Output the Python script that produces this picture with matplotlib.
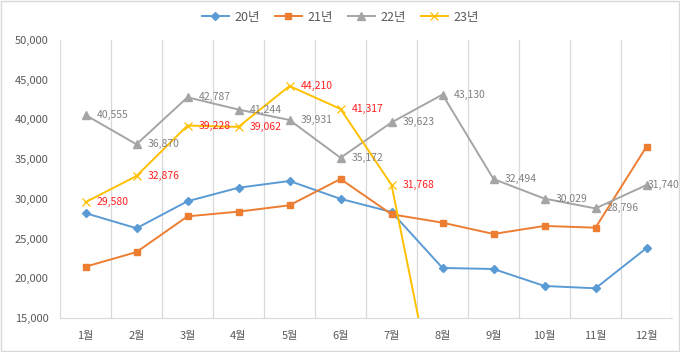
import matplotlib
matplotlib.use("Agg")
import matplotlib.pyplot as plt
from matplotlib.patches import Rectangle
from matplotlib.ticker import FuncFormatter, MultipleLocator

plt.rcParams['font.family'] = ['Noto Sans CJK KR', 'DejaVu Sans']

months = ["1월", "2월", "3월", "4월", "5월", "6월", "7월", "8월", "9월", "10월", "11월", "12월"]
s20 = [28200, 26300, 29700, 31400, 32250, 30000, 28350, 21300, 21170, 19030, 18740, 23800]
s21 = [21460, 23300, 27800, 28390, 29190, 32500, 28060, 27000, 25580, 26590, 26370, 36570]
s22 = [40555, 36870, 42787, 41244, 39931, 35172, 39623, 43130, 32494, 30029, 28796, 31740]
s23 = [29580, 32876, 39228, 39062, 44210, 41317, 31768, 0, 0, 0, 0, 0]
series_names = ["20년", "21년", "22년", "23년"]

fig = plt.figure(figsize=(6.8, 3.52), dpi=100)
ax = fig.add_axes([60/680, 34/352, 612/680, 278/352])

x = list(range(len(months)))
styles = [
    dict(color="#5B9BD5", marker="D", ms=3.8),
    dict(color="#ED7D31", marker="s", ms=4.8),
    dict(color="#A5A5A5", marker="^", ms=5.2),
    dict(color="#FFC000", marker="x", ms=5.5, mew=0.9),
]
data = [s20, s21, s22, s23]
for name, ys, st in zip(series_names, data, styles):
    ax.plot(x, ys, lw=1.4, label=name, zorder=3, **st)

ymin, ymax = 15000, 50000
for ys, col in [(s22, "#808080"), (s23, "#FF2020")]:
    for xi, yi in zip(x, ys):
        if ymin <= yi <= ymax:
            dx = 8 if xi < len(x) - 1 else 0.5
            ax.annotate(f"{yi:,}", (xi, yi), xytext=(dx, 0), textcoords="offset points",
                        va="center", ha="left", fontsize=7.5, color=col, zorder=4,
                        fontweight="medium" if col != "#808080" else "normal",
                        annotation_clip=False)

ax.set_xlim(-0.5, 11.5)
ax.set_ylim(ymin, ymax)
ax.set_xticks(x)
ax.set_xticklabels(months)
ax.set_xticks([i - 0.5 for i in range(13)], minor=True)
ax.yaxis.set_major_locator(MultipleLocator(5000))
ax.yaxis.set_major_formatter(FuncFormatter(lambda v, p: f"{int(v):,}"))
ax.grid(True, which="minor", axis="x", color="#D9D9D9", lw=0.9)
ax.grid(False, which="major")
ax.tick_params(axis="both", which="both", length=0, labelsize=8, colors="#595959")
ax.tick_params(axis="x", pad=9)
ax.tick_params(axis="y", pad=8)
for s in ["top", "right", "left"]:
    ax.spines[s].set_visible(False)
ax.spines["bottom"].set_color("#D9D9D9")

leg = fig.legend(loc="center", bbox_to_anchor=(0.5, 1 - 17/352), ncol=4, frameon=False,
                 fontsize=9, handlelength=2.2, columnspacing=1.2, handletextpad=0.4,
                 labelcolor="#595959")

fig.patches.append(Rectangle((0.001, 0.002), 0.997, 0.995, transform=fig.transFigure,
                             fill=False, edgecolor="#D9D9D9", lw=1))
fig.savefig("out.png", dpi=100)
